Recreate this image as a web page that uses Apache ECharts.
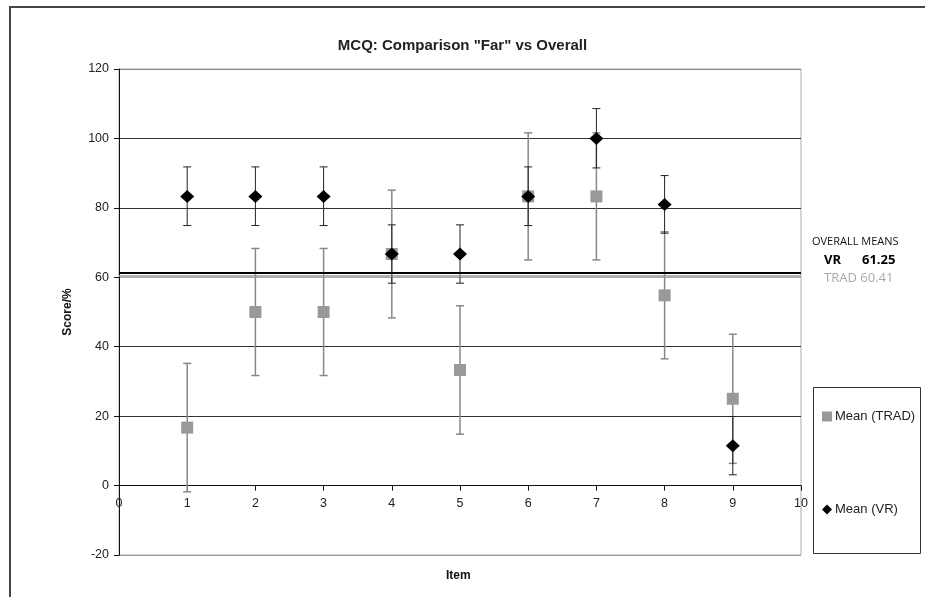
<!DOCTYPE html>
<html>
<head>
<meta charset="utf-8">
<script src="https://cdn.jsdelivr.net/npm/echarts@6/dist/echarts.min.js"></script>
<style>html,body{margin:0;padding:0;background:#fff}#c{width:925px;height:597px}</style>
</head>
<body>
<div id="c"></div>
<script>
const items = [1, 2, 3, 4, 5, 6, 7, 8, 9];
const tradMean = [16.7, 50, 50, 66.7, 33.3, 83.3, 83.3, 54.8, 25];
const tradLow  = [-1.8, 31.7, 31.7, 48.3, 14.8, 65, 65, 36.5, 6.4];
const tradHigh = [35.2, 68.3, 68.3, 85.1, 51.8, 101.6, 101.6, 73.1, 43.6];
const vrMean = [83.3, 83.3, 83.3, 66.7, 66.7, 83.3, 100, 81, 11.5];
const vrLow  = [74.9, 74.9, 74.9, 58.3, 58.3, 74.9, 91.5, 72.7, 3.1];
const vrHigh = [91.8, 91.8, 91.8, 75.1, 75.1, 91.8, 108.6, 89.3, 19.9];
const overallVR = 61.25;
const overallTRAD = 60.41;
const yTicks = [-20, 0, 20, 40, 60, 80, 100, 120];

const FONT = '"Liberation Sans", Arial, sans-serif';
const H = 597, GRID_TOP = 69, GRID_BOTTOM = 42;
const yMin = yTicks[0], yMax = yTicks[yTicks.length - 1];
const plotH = H - GRID_TOP - GRID_BOTTOM;
// move the x axis up to the y = 0 line
const xAxisOffset = -((0 - yMin) / (yMax - yMin)) * plotH;

function errData(low, high) {
  return items.map((x, i) => [x, low[i], high[i]]);
}
function errRender(color, width) {
  return function (params, api) {
    const x = api.value(0);
    const lo = api.coord([x, api.value(1)]);
    const hi = api.coord([x, api.value(2)]);
    const cap = 4;
    const style = { stroke: color, lineWidth: width };
    return {
      type: 'group',
      children: [
        { type: 'line', shape: { x1: lo[0], y1: lo[1], x2: hi[0], y2: hi[1] }, style },
        { type: 'line', shape: { x1: lo[0] - cap, y1: lo[1], x2: lo[0] + cap, y2: lo[1] }, style },
        { type: 'line', shape: { x1: hi[0] - cap, y1: hi[1], x2: hi[0] + cap, y2: hi[1] }, style }
      ]
    };
  };
}

const chart = echarts.init(document.getElementById('c'));
chart.setOption({
  animation: false,
  backgroundColor: '#fff',
  title: {
    text: 'MCQ: Comparison "Far" vs Overall',
    left: 'center', top: 33,
    textStyle: { fontFamily: FONT, fontSize: 15, fontWeight: 'bold', color: '#222' }
  },
  grid: { left: 119, right: 124, top: GRID_TOP, bottom: GRID_BOTTOM, show: true, borderColor: '#aaa', borderWidth: 1 },
  xAxis: {
    type: 'value', min: 0, max: 10, interval: 1, position: 'bottom', offset: xAxisOffset,
    axisLine: { onZero: false, lineStyle: { color: '#111', width: 1 } },
    axisTick: { show: true, length: 5, lineStyle: { color: '#111' } },
    axisLabel: { fontFamily: FONT, fontSize: 12.5, color: '#222', margin: 11 },
    splitLine: { show: false }
  },
  yAxis: {
    type: 'value', min: yMin, max: yMax, interval: 20,
    name: 'Score/%', nameLocation: 'middle', nameGap: 45,
    nameTextStyle: { fontFamily: FONT, fontSize: 12, fontWeight: 'bold', color: '#111' },
    axisLine: { show: true, onZero: false, lineStyle: { color: '#111' } },
    axisTick: { show: true, length: 5, lineStyle: { color: '#111' } },
    axisLabel: { fontFamily: FONT, fontSize: 12.5, color: '#222', margin: 10 },
    splitLine: { show: true, lineStyle: { color: ['#999', '#222', '#333', '#333', '#aaa', '#333', '#333', '#888'], width: 1 } }
  },
  legend: {
    orient: 'vertical', left: 817, top: 405, itemGap: 80,
    itemWidth: 10, itemHeight: 10,
    textStyle: { fontFamily: FONT, fontSize: 13, color: '#222', padding: [0, 0, 0, -2] },
    data: [
      { name: 'Mean (TRAD)', icon: 'rect', itemStyle: { color: '#999' } },
      { name: 'Mean (VR)', icon: 'diamond', itemStyle: { color: '#000' } }
    ]
  },
  graphic: [
    { type: 'rect', shape: { x: 10, y: 7, width: 930, height: 620 }, style: { fill: null, stroke: '#444', lineWidth: 2 }, z: -1, silent: true },
    { type: 'rect', shape: { x: 813.5, y: 387.5, width: 107, height: 166 }, style: { fill: null, stroke: '#333', lineWidth: 1 }, silent: true },
    { type: 'text', left: 812, top: 236, style: { text: 'OVERALL MEANS', font: '11px "Open Sans", sans-serif', fill: '#111' } },
    { type: 'text', left: 824, top: 254, style: { text: 'VR', font: 'bold 13px "Open Sans", sans-serif', fill: '#000' } },
    { type: 'text', left: 862, top: 254, style: { text: String(overallVR), font: 'bold 13px "Open Sans", sans-serif', fill: '#000' } },
    { type: 'text', left: 824, top: 272, style: { text: 'TRAD ' + overallTRAD, font: '13px "Open Sans", sans-serif', fill: '#aaa' } },
    { type: 'text', left: 446, top: 570, style: { text: 'Item', font: 'bold 12px ' + FONT, fill: '#111' } }
  ],
  series: [
    {
      type: 'custom', name: 'errTRAD', renderItem: errRender('#888', 1.5),
      data: errData(tradLow, tradHigh), encode: { x: 0, y: [1, 2] }, z: 2, silent: true
    },
    {
      type: 'custom', name: 'errVR', renderItem: errRender('#222', 1),
      data: errData(vrLow, vrHigh), encode: { x: 0, y: [1, 2] }, z: 3, silent: true
    },
    {
      type: 'scatter', name: 'Mean (TRAD)', symbol: 'rect', symbolSize: 12,
      itemStyle: { color: '#999', opacity: 1 }, z: 4,
      data: items.map((x, i) => [x, tradMean[i]]),
      markLine: {
        silent: true, symbol: 'none', label: { show: false }, animation: false,
        data: [{ yAxis: overallTRAD }],
        lineStyle: { color: '#999', width: 1.5, type: 'solid' }
      }
    },
    {
      type: 'scatter', name: 'Mean (VR)', symbol: 'diamond', symbolSize: [14, 13],
      itemStyle: { color: '#000', opacity: 1 }, z: 5,
      data: items.map((x, i) => [x, vrMean[i]]),
      markLine: {
        silent: true, symbol: 'none', label: { show: false }, animation: false,
        data: [{ yAxis: overallVR }],
        lineStyle: { color: '#000', width: 2, type: 'solid' }
      }
    }
  ]
});
</script>
</body>
</html>
